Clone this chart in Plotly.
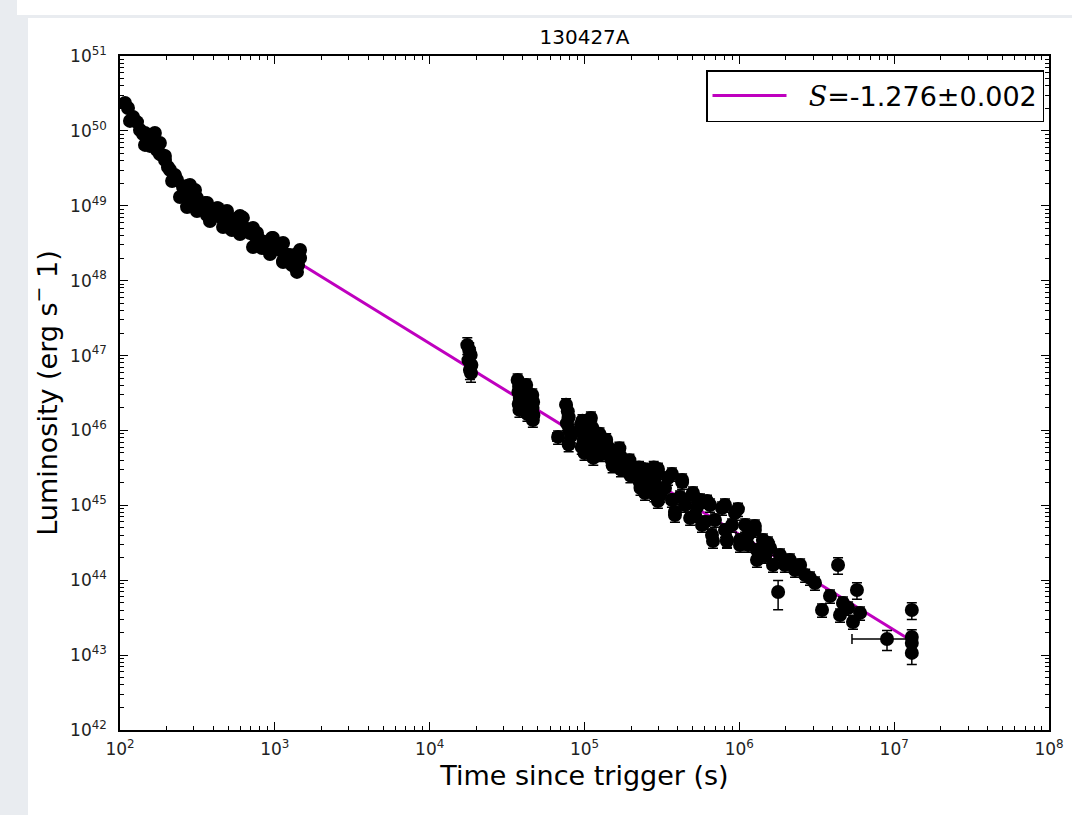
import plotly.graph_objects as go

title_text = "130427A"
x_label = "Time since trigger (s)"
y_label = "Luminosity (erg s<sup>−</sup> 1)"
fit_label = "&nbsp;&nbsp;<span style='font-family:DejaVu Serif'><i>S</i></span>=-1.276±0.002"

# (time [s], luminosity [erg/s], relative error)
early_points = [
    (107.7, 2.36e50, .06), (112.6, 2.02e50, .06), (121.4, 1.53e50, .06), (128.8, 1.31e50, .06),
    (134.6, 1.03e50, .06), (145, 6.5e49, .06), (149.3, 8.8e49, .06), (163.2, 7.55e49, .06),
    (168, 9.4e49, .06), (173.3, 5.56e49, .06), (186.7, 4.77e49, .06), (195.3, 4.08e49, .06),
    (210.5, 3.0e49, .06), (226, 2.58e49, .07), (233.5, 2.21e49, .07), (255.2, 1.78e49, .07),
    (263, 1.39e49, .07), (274.9, 1.48e49, .07), (283, 1.9e49, .07), (296, 1.19e49, .07),
    (305, 1.63e49, .07), (328.6, 9.6e48, .07), (354, 1.09e49, .08), (365, 7.5e48, .08),
    (381, 8.8e48, .08), (411, 7.8e48, .08), (429, 9.3e48, .08), (443, 7.1e48, .08),
    (477, 8.3e48, .08), (513, 6.07e48, .08), (528, 4.75e48, .08), (553, 6.65e48, .08),
    (596, 5.53e48, .08), (622, 6.9e48, .08), (641, 5.05e48, .08), (691, 4.34e48, .09),
    (723, 5.05e48, .09), (745, 3.96e48, .09), (802, 3.49e48, .09), (826, 2.73e48, .09),
    (865, 3.28e48, .09), (931, 2.99e48, .09), (959, 3.72e48, .09), (1003, 2.73e48, .1),
    (1080, 2.57e48, .1), (1130, 1.77e48, .1), (1164, 2.27e48, .1), (1253, 2.2e48, .1),
    (1291, 1.62e48, .1), (1349, 1.89e48, .1), (1371, 1.48e48, .1), (1413, 1.62e48, .1),
    (1455, 2.01e48, .1), (1455, 2.57e48, .1),
]

early_edge_points = [
    (145, 9.4e49, .06), (181, 6.9e49, .06), (195, 4.62e49, .06), (226, 2.5e49, .07),
    (271, 1.84e49, .07), (314, 1.27e49, .07), (365, 1.09e49, .08), (423, 9.3e48, .08),
    (491, 8.5e48, .08), (596, 7.3e48, .08), (767, 4.33e48, .09), (973, 3.72e48, .09),
    (1130, 3.18e48, .1), (1390, 2.27e48, .1),
    (116, 1.36e50, .06), (141, 9.1e49, .06), (156, 6.3e49, .06), (181, 4.91e49, .06),
    (204, 3.3e49, .06), (217, 2.14e49, .07), (244, 1.31e49, .07), (271, 9.6e48, .07),
    (314, 8.5e48, .07), (381, 6.27e48, .08), (463, 5.2e48, .08), (596, 4.2e48, .08),
    (723, 2.82e48, .09), (931, 2.27e48, .09), (1130, 1.83e48, .1), (1390, 1.31e48, .1),
]

orbit2_points = [
    (1.75e4, 1.38e47, .25), (1.80e4, 1.19e47, .25), (1.84e4, 1.02e47, .25), (1.78e4, 8.7e46, .25),
    (1.86e4, 7.5e46, .25), (1.82e4, 6.4e46, .25), (1.85e4, 5.85e46, .25),
]

orbit3_points = [
    (3.70e4, 4.72e46, .2), (3.78e4, 3.93e46, .2), (3.74e4, 3.26e46, .2), (3.82e4, 2.71e46, .2),
    (3.76e4, 2.25e46, .2), (3.80e4, 1.88e46, .2),
    (4.20e4, 4.05e46, .2), (4.26e4, 3.26e46, .2), (4.22e4, 2.55e46, .2), (4.30e4, 2.06e46, .2),
    (4.28e4, 1.66e46, .2),
    (4.60e4, 2.97e46, .2), (4.66e4, 2.40e46, .2), (4.62e4, 2.0e46, .2), (4.68e4, 1.61e46, .2),
    (4.64e4, 1.38e46, .2),
]

mid_points = [
    (7.6e4, 2.2e46, .2), (7.8e4, 1.8e46, .2), (7.9e4, 1.5e46, .2), (7.7e4, 1.25e46, .2),
    (8.0e4, 1.0e46, .2), (8.2e4, 8.5e45, .2), (7.9e4, 6.5e45, .2),
    (9.5e4, 1.2e46, .2), (9.7e4, 9.5e45, .2), (9.9e4, 7.5e45, .2), (9.6e4, 6.0e45, .2),
    (1.0e5, 5.0e45, .2), (9.7e4, 1.35e46, .2),
    (1.10e5, 1.47e46, .2), (1.12e5, 1.1e46, .2), (1.13e5, 8.0e45, .2), (1.10e5, 6.2e45, .2),
    (1.12e5, 5.0e45, .2), (1.14e5, 4.3e45, .2),
    (1.25e5, 9.0e45, .2), (1.30e5, 6.5e45, .2), (1.28e5, 4.8e45, .2),
    (1.38e5, 7.5e45, .2), (1.42e5, 6.0e45, .2), (1.45e5, 5.0e45, .2), (1.50e5, 4.0e45, .2),
    (1.52e5, 3.4e45, .2),
    (1.68e5, 5.8e45, .2), (1.70e5, 4.6e45, .2), (1.73e5, 3.8e45, .2), (1.72e5, 3.0e45, .2),
    (1.95e5, 4.0e45, .2), (2.00e5, 3.2e45, .2), (1.98e5, 2.5e45, .2),
    (2.25e5, 3.2e45, .2), (2.30e5, 2.5e45, .2), (2.28e5, 2.0e45, .2), (2.30e5, 1.7e45, .2),
    (2.80e5, 3.2e45, .2), (2.85e5, 2.4e45, .2), (2.90e5, 1.8e45, .2), (2.83e5, 1.4e45, .2),
]

late_points = [
    (2.46e5, 2.96e45, .2), (2.46e5, 1.71e45, .2), (2.98e5, 2.79e45, .2), (3.08e5, 1.37e45, .2),
    (3.46e5, 2.32e45, .2), (3.67e5, 1.18e45, .2), (3.84e5, 8.15e44, .2), (4.27e5, 2.05e45, .2),
    (4.46e5, 1.01e45, .2), (4.95e5, 1.37e45, .2), (5.17e5, 7.43e44, .2), (5.57e5, 1.18e45, .2),
    (6.0e5, 6.0e44, .2), (6.47e5, 1.01e45, .2), (6.66e5, 4.02e44, .2), (7.73e5, 9.2e44, .2),
    (8.08e5, 4.69e44, .2), (8.32e5, 3.44e44, .2), (9.37e5, 7.9e44, .2), (1.01e6, 3.44e44, .2),
    (1.09e6, 5.47e44, .2), (1.14e6, 2.95e44, .2), (1.26e6, 4.69e44, .2), (1.30e6, 2.53e44, .2),
    (1.42e6, 3.44e44, .2), (1.47e6, 2.11e44, .2), (1.58e6, 2.69e44, .2), (1.65e6, 1.60e44, .2),
    (1.83e6, 2.17e44, .2), (1.97e6, 1.60e44, .2), (2.12e6, 1.86e44, .2), (2.29e6, 1.37e44, .2),
    (2.47e6, 1.60e44, .2), (2.66e6, 1.17e44, .2), (2.86e6, 1.07e44, .2), (3.08e6, 9.2e43, .2),
    (1.78e6, 6.97e43, .42), (4.34e6, 1.60e44, .25),
    (3.42e6, 4.0e43, .2), (3.85e6, 6.15e43, .2), (4.47e6, 3.43e43, .2), (4.67e6, 4.97e43, .2),
    (5.04e6, 4.26e43, .2), (5.42e6, 2.77e43, .2), (5.75e6, 7.4e43, .25), (6.02e6, 3.66e43, .2),
    (1.30e7, 4.0e43, .25), (1.30e7, 1.75e43, .25), (1.30e7, 1.45e43, .25), (1.30e7, 1.07e43, .3),
]

late_band_points = [
    (2.39e5, 3.05e45, .2), (2.98e5, 3.05e45, .2), (3.67e5, 2.62e45, .2), (4.27e5, 2.18e45, .2),
    (5.02e5, 1.46e45, .2), (6.18e5, 1.14e45, .2), (8.08e5, 1.01e45, .2), (9.8e5, 8.9e44, .2),
    (1.26e6, 5.3e44, .2), (1.53e6, 3.14e44, .2),
    (2.46e5, 1.46e45, .2), (2.98e5, 1.14e45, .2), (3.84e5, 7.43e44, .2), (4.81e5, 6.78e44, .2),
    (5.74e5, 5.47e44, .2), (6.76e5, 3.34e44, .2), (8.32e5, 3.34e44, .2), (1.01e6, 2.95e44, .2),
    (1.30e6, 1.86e44, .2),
    (2.65e5, 2.05e45, .2), (3.31e5, 1.71e45, .2), (4.14e5, 1.29e45, .2), (5.33e5, 9.5e44, .2),
    (6.96e5, 6.37e44, .2), (8.97e5, 5.47e44, .2), (1.14e6, 4.02e44, .2), (1.40e6, 2.53e44, .2),
]

# (time, luminosity, relative error, time error)
xerr_points = [(6.75e4, 8.2e45, .2, 5.0e3), (8.99e6, 1.64e43, .3, 3.65e6)]

fit_slope = -1.276
fit_time = [1.2e3, 1.21e7]
fit_lum_end = 1.69e43

x_tickvals = [1e2, 1e3, 1e4, 1e5, 1e6, 1e7, 1e8]
x_ticktext = ["10<sup>%d</sup>" % e for e in range(2, 9)]
y_tickvals = [10.0 ** e for e in range(42, 52)]
y_ticktext = ["10<sup>%d</sup>" % e for e in range(42, 52)]

all_points = (early_points + early_edge_points + orbit2_points + orbit3_points
              + mid_points + late_points + late_band_points)
t_vals = [p[0] for p in all_points]
l_vals = [p[1] for p in all_points]
l_errs = [p[1] * p[2] for p in all_points]

fit_lum = [fit_lum_end * (t / fit_time[-1]) ** fit_slope for t in fit_time]

x_minor = [k * 10.0 ** n for n in range(2, 8) for k in range(2, 10)]
y_minor = [k * 10.0 ** n for n in range(42, 51) for k in range(2, 10)]

MAG = "#bf00bf"
FONT = "DejaVu Sans"

fig = go.Figure()
fig.add_trace(go.Scatter(
    x=fit_time, y=fit_lum, mode="lines", name=fit_label,
    line=dict(color=MAG, width=3), showlegend=True,
))
fig.add_trace(go.Scatter(
    x=t_vals, y=l_vals, mode="markers", showlegend=False,
    marker=dict(color="black", size=14, line=dict(width=0)),
    error_y=dict(type="data", array=l_errs, visible=True, color="black", thickness=1.5, width=5),
))
fig.add_trace(go.Scatter(
    x=[p[0] for p in xerr_points], y=[p[1] for p in xerr_points], mode="markers", showlegend=False,
    marker=dict(color="black", size=14, line=dict(width=0)),
    error_y=dict(type="data", array=[p[1] * p[2] for p in xerr_points], visible=True,
                 color="black", thickness=1.5, width=5),
    error_x=dict(type="data", array=[p[3] for p in xerr_points], visible=True,
                 color="black", thickness=1.5, width=5),
))

L, R, T, B = 120, 1049, 56, 730
W, H = 1072, 815
pw, ph = R - L, B - T

def px(xp):
    return (xp - L) / pw

def py(yp):
    return (B - yp) / ph

fig.add_shape(type="rect", xref="paper", yref="paper", x0=px(17), x1=px(1080), y0=py(15), y1=py(-5),
              fillcolor="white", line=dict(width=0), layer="below")
fig.add_shape(type="rect", xref="paper", yref="paper", x0=px(28), x1=px(1080), y0=py(825), y1=py(18),
              fillcolor="white", line=dict(width=0), layer="below")

axis_common = dict(
    type="log", showgrid=False, zeroline=False, showline=True, linecolor="black", linewidth=1.5,
    mirror="ticks", ticks="inside", ticklen=8, tickwidth=1.2, tickcolor="black", automargin=False,
    tickfont=dict(family=FONT, size=17, color="#222"),
)

fig.update_xaxes(
    **axis_common, range=[2, 8], tickmode="array", tickvals=x_tickvals, ticktext=x_ticktext,
    ticklabelstandoff=3,
    minor=dict(ticks="inside", ticklen=4, tickwidth=1, tickcolor="black", tickmode="array", tickvals=x_minor, showgrid=False),
    title=dict(text=x_label, font=dict(family=FONT, size=27, color="black"), standoff=8),
)
fig.update_yaxes(
    **axis_common, range=[42, 51], tickmode="array", tickvals=y_tickvals, ticktext=y_ticktext,
    ticklabelstandoff=8,
    minor=dict(ticks="inside", ticklen=4, tickwidth=1, tickcolor="black", tickmode="array", tickvals=y_minor, showgrid=False),
    title=dict(text=y_label, font=dict(family=FONT, size=27, color="black"), standoff=5),
)

fig.update_layout(
    width=W, height=H, autosize=False,
    margin=dict(l=L, r=W - R, t=T, b=H - B, pad=0, autoexpand=False),
    paper_bgcolor="#e9ecf0", plot_bgcolor="white",
    title=dict(text=title_text, x=0.5, xref="paper", y=1 - 37 / H, yref="container", yanchor="middle",
               xanchor="center", font=dict(family=FONT, size=20, color="black")),
    legend=dict(x=px(1044), xanchor="right", y=py(70), yanchor="top", bgcolor="white",
                bordercolor="black", borderwidth=1.5, font=dict(family=FONT, size=27, color="black"),
                itemwidth=74),
    showlegend=True,
)

fig.write_html("out.html")
